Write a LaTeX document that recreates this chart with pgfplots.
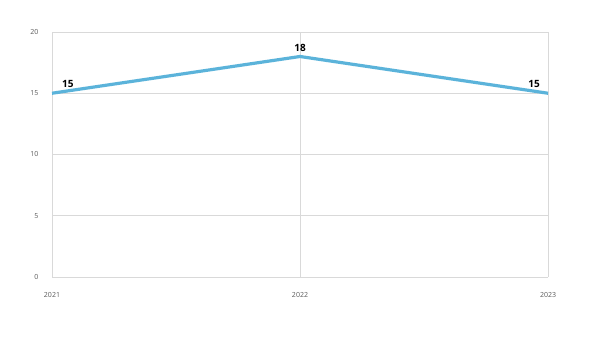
\documentclass[border=0pt]{standalone}
\usepackage{fontspec}
\setmainfont{Open Sans}
\usepackage{pgfplots}
\pgfplotsset{compat=1.18}
\definecolor{linec}{HTML}{5BB3DA}
\definecolor{gridc}{HTML}{D9D9D9}
\definecolor{tickc}{HTML}{595959}
\begin{document}
\begin{tikzpicture}[x=1pt,y=1pt]
\useasboundingbox (0,0) rectangle (600,339);
\begin{axis}[
  at={(52pt,62pt)}, anchor=south west,
  scale only axis, width=496pt, height=245pt,
  xmin=2021, xmax=2023, ymin=0, ymax=20,
  xtick={2021,2022,2023}, ytick={0,5,10,15,20},
  xticklabels={2021,2022,2023},
  /pgf/number format/assume math mode=true,
  /pgf/number format/1000 sep={},
  grid=major, major grid style={gridc, line width=0.8pt},
  axis line style={gridc, line width=0.8pt},
  axis x line*=bottom, axis y line*=left,
  tick style={draw=none},
  every tick label/.style={font=\fontsize{7}{8}\selectfont, text=tickc},
  xticklabel style={yshift=-12pt},
  yticklabel style={xshift=-10pt},
  clip=false,
]
\addplot[linec, line width=3.2pt, mark=none] coordinates {(2021,15) (2022,18) (2023,15)};
\node[anchor=south west, font=\bfseries\fontsize{10}{11}\selectfont, inner sep=1pt] at (axis cs:2021,15) [xshift=9pt,yshift=4pt] {15};
\node[anchor=south, font=\bfseries\fontsize{10}{11}\selectfont, inner sep=1pt] at (axis cs:2022,18) [yshift=4pt] {18};
\node[anchor=south east, font=\bfseries\fontsize{10}{11}\selectfont, inner sep=1pt] at (axis cs:2023,15) [xshift=-7pt,yshift=4pt] {15};
\end{axis}
\end{tikzpicture}
\end{document}
